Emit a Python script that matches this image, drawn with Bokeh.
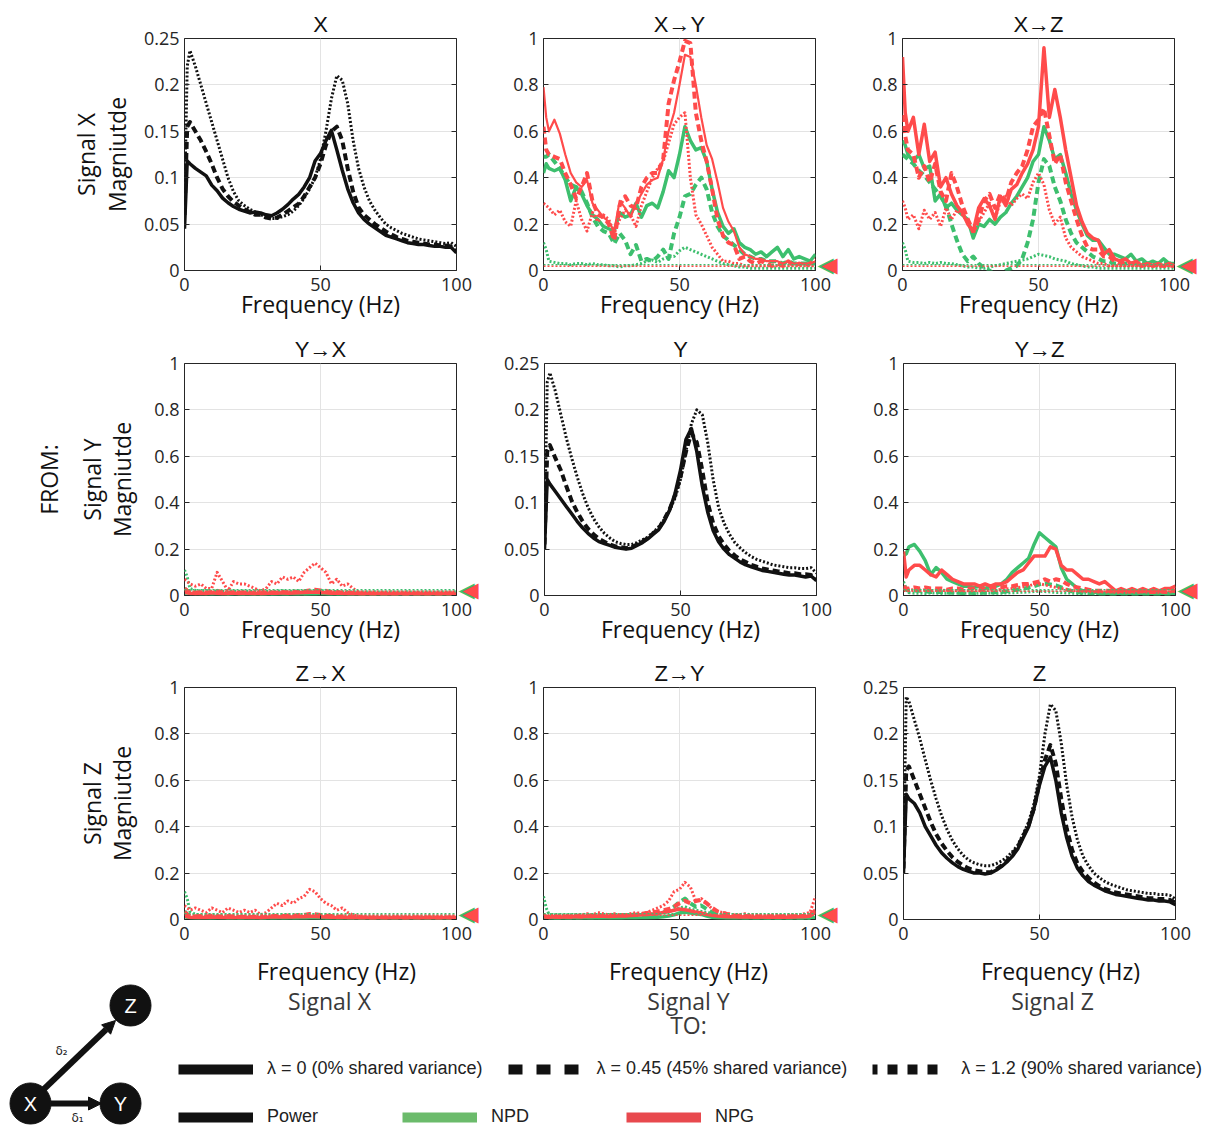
from bokeh.plotting import figure
from bokeh.layouts import column, row
from bokeh.models import (Range1d, FixedTicker, PrintfTickFormatter, LinearAxis, Span,
                          Title, Legend, LegendItem, Arrow, NormalHead)
from bokeh.core.properties import value
from bokeh.embed import file_html
from bokeh.resources import INLINE

# ---------------- data ----------------
FREQ = [0, 1, 2, 4,
        6, 8, 10, 12, 14, 16, 18, 20, 22, 24,
        26, 28, 30, 32, 34, 36, 38, 40, 42, 44,
        46, 48, 50, 52, 54, 56, 58, 60, 62, 64,
        66, 68, 70, 72, 74, 76, 78, 80, 82, 84,
        86, 88, 90, 92, 94, 96, 98, 100]

X_TICKS = [0, 50, 100]
POWER_TICKS = [0, 0.05, 0.1, 0.15, 0.2, 0.25]
UNIT_TICKS = [0, 0.2, 0.4, 0.6, 0.8, 1]

NPD_THRESH = 0.025
NPG_THRESH = 0.018

# Power (diagonal panels)
X_POW_L0 = [0.045, 0.118, 0.115, 0.110,
            0.106, 0.102, 0.092, 0.086, 0.078, 0.073, 0.069, 0.066, 0.064, 0.062,
            0.063, 0.062, 0.060, 0.059, 0.062, 0.066, 0.071, 0.077, 0.082, 0.090,
            0.100, 0.118, 0.126, 0.140, 0.151, 0.130, 0.108, 0.088, 0.073, 0.062,
            0.055, 0.050, 0.046, 0.042, 0.038, 0.036, 0.034, 0.032, 0.030, 0.029,
            0.028, 0.028, 0.027, 0.026, 0.026, 0.025, 0.025, 0.019]
X_POW_L45 = [0.060, 0.155, 0.160, 0.150,
             0.140, 0.128, 0.115, 0.100, 0.088, 0.080, 0.074, 0.070, 0.066, 0.063,
             0.060, 0.060, 0.057, 0.056, 0.057, 0.060, 0.064, 0.068, 0.072, 0.080,
             0.090, 0.100, 0.115, 0.135, 0.150, 0.155, 0.140, 0.110, 0.085, 0.068,
             0.060, 0.055, 0.050, 0.046, 0.042, 0.039, 0.036, 0.034, 0.032, 0.031,
             0.030, 0.029, 0.028, 0.028, 0.027, 0.027, 0.026, 0.022]
X_POW_L12 = [0.070, 0.220, 0.237, 0.220,
             0.200, 0.180, 0.160, 0.140, 0.120, 0.100, 0.085, 0.075, 0.070, 0.066,
             0.063, 0.060, 0.058, 0.056, 0.056, 0.058, 0.060, 0.064, 0.070, 0.078,
             0.088, 0.100, 0.120, 0.150, 0.185, 0.210, 0.205, 0.180, 0.140, 0.110,
             0.090, 0.075, 0.065, 0.057, 0.050, 0.046, 0.043, 0.040, 0.038, 0.036,
             0.034, 0.033, 0.032, 0.031, 0.030, 0.029, 0.030, 0.026]

Y_POW_L0 = [0.050, 0.125, 0.120, 0.112,
            0.104, 0.096, 0.088, 0.080, 0.073, 0.067, 0.062, 0.058, 0.056, 0.054,
            0.052, 0.051, 0.050, 0.051, 0.054, 0.057, 0.061, 0.066, 0.071, 0.080,
            0.092, 0.110, 0.135, 0.168, 0.180, 0.155, 0.118, 0.090, 0.070, 0.058,
            0.050, 0.044, 0.040, 0.036, 0.033, 0.031, 0.029, 0.027, 0.026, 0.025,
            0.024, 0.023, 0.022, 0.022, 0.021, 0.020, 0.021, 0.016]
Y_POW_L45 = [0.055, 0.155, 0.162, 0.148,
             0.135, 0.118, 0.102, 0.090, 0.080, 0.072, 0.066, 0.061, 0.058, 0.055,
             0.053, 0.052, 0.051, 0.052, 0.055, 0.058, 0.062, 0.067, 0.072, 0.082,
             0.093, 0.108, 0.128, 0.155, 0.175, 0.165, 0.135, 0.100, 0.078, 0.064,
             0.055, 0.048, 0.043, 0.039, 0.036, 0.033, 0.031, 0.029, 0.028, 0.027,
             0.026, 0.025, 0.024, 0.024, 0.023, 0.023, 0.022, 0.018]
Y_POW_L12 = [0.065, 0.230, 0.240, 0.220,
             0.195, 0.170, 0.148, 0.128, 0.110, 0.095, 0.083, 0.074, 0.067, 0.062,
             0.058, 0.056, 0.055, 0.055, 0.057, 0.060, 0.063, 0.068, 0.074, 0.082,
             0.092, 0.105, 0.125, 0.155, 0.185, 0.200, 0.195, 0.165, 0.125, 0.095,
             0.078, 0.066, 0.057, 0.051, 0.046, 0.042, 0.039, 0.037, 0.035, 0.033,
             0.032, 0.031, 0.030, 0.030, 0.029, 0.029, 0.030, 0.024]

Z_POW_L0 = [0.050, 0.135, 0.130, 0.125,
            0.115, 0.100, 0.090, 0.080, 0.072, 0.066, 0.061, 0.057, 0.054, 0.052,
            0.050, 0.050, 0.049, 0.050, 0.053, 0.057, 0.062, 0.068, 0.076, 0.088,
            0.100, 0.120, 0.145, 0.165, 0.175, 0.150, 0.115, 0.088, 0.068, 0.055,
            0.047, 0.041, 0.037, 0.034, 0.031, 0.029, 0.027, 0.026, 0.025, 0.024,
            0.023, 0.022, 0.021, 0.021, 0.020, 0.020, 0.019, 0.016]
Z_POW_L45 = [0.055, 0.160, 0.165, 0.150,
             0.135, 0.120, 0.105, 0.092, 0.082, 0.074, 0.067, 0.062, 0.058, 0.055,
             0.053, 0.052, 0.051, 0.051, 0.054, 0.058, 0.063, 0.070, 0.078, 0.090,
             0.102, 0.120, 0.148, 0.172, 0.188, 0.168, 0.130, 0.098, 0.075, 0.060,
             0.051, 0.045, 0.040, 0.036, 0.033, 0.031, 0.029, 0.028, 0.027, 0.026,
             0.025, 0.024, 0.023, 0.023, 0.022, 0.022, 0.021, 0.018]
Z_POW_L12 = [0.065, 0.240, 0.235, 0.215,
             0.195, 0.172, 0.150, 0.130, 0.112, 0.097, 0.085, 0.076, 0.069, 0.064,
             0.061, 0.059, 0.058, 0.058, 0.060, 0.063, 0.067, 0.073, 0.080, 0.092,
             0.105, 0.125, 0.155, 0.200, 0.232, 0.225, 0.190, 0.145, 0.110, 0.085,
             0.068, 0.058, 0.050, 0.045, 0.041, 0.038, 0.036, 0.034, 0.032, 0.031,
             0.030, 0.029, 0.028, 0.028, 0.027, 0.027, 0.026, 0.022]

# X -> Y
XY_NPD_L0 = [0.42, 0.46, 0.44, 0.43,
             0.44, 0.39, 0.30, 0.36, 0.33, 0.28, 0.24, 0.22, 0.19, 0.18,
             0.17, 0.25, 0.23, 0.24, 0.29, 0.23, 0.28, 0.29, 0.27, 0.34,
             0.43, 0.40, 0.50, 0.62, 0.56, 0.52, 0.53, 0.47, 0.35, 0.25,
             0.19, 0.16, 0.18, 0.12, 0.10, 0.09, 0.07, 0.08, 0.06, 0.08,
             0.10, 0.06, 0.09, 0.05, 0.06, 0.05, 0.04, 0.07]
XY_NPD_L45 = [0.49, 0.49, 0.50, 0.47,
              0.44, 0.40, 0.37, 0.36, 0.34, 0.29, 0.23, 0.19, 0.17, 0.16,
              0.115, 0.16, 0.13, 0.07, 0.11, 0.04, 0.05, 0.04, 0.06, 0.09,
              0.05, 0.16, 0.23, 0.32, 0.33, 0.37, 0.40, 0.35, 0.25, 0.19,
              0.15, 0.13, 0.11, 0.09, 0.07, 0.06, 0.05, 0.05, 0.04, 0.04,
              0.04, 0.03, 0.04, 0.03, 0.03, 0.03, 0.03, 0.03]
XY_NPD_L12 = [0.12, 0.09, 0.04, 0.035,
              0.03, 0.03, 0.025, 0.03, 0.03, 0.025, 0.03, 0.025, 0.025, 0.02,
              0.02, 0.015, 0.02, 0.02, 0.025, 0.03, 0.04, 0.045, 0.035, 0.05,
              0.06, 0.06, 0.085, 0.10, 0.09, 0.08, 0.07, 0.06, 0.05, 0.04,
              0.03, 0.025, 0.02, 0.015, 0.015, 0.01, 0.01, 0.01, 0.01, 0.01,
              0.01, 0.01, 0.01, 0.01, 0.01, 0.01, 0.01, 0.01]
XY_NPG_L0 = [0.79, 0.66, 0.60, 0.65,
             0.59, 0.50, 0.42, 0.38, 0.36, 0.39, 0.29, 0.26, 0.23, 0.21,
             0.17, 0.30, 0.27, 0.23, 0.29, 0.33, 0.37, 0.39, 0.40, 0.48,
             0.60, 0.68, 0.80, 0.93, 0.92, 0.80, 0.66, 0.54, 0.48, 0.38,
             0.27, 0.21, 0.17, 0.10, 0.07, 0.06, 0.05, 0.05, 0.04, 0.04,
             0.04, 0.03, 0.04, 0.03, 0.03, 0.03, 0.03, 0.04]
XY_NPG_L45 = [0.62, 0.52, 0.50, 0.49,
              0.48, 0.42, 0.37, 0.31, 0.36, 0.42, 0.30, 0.24, 0.23, 0.20,
              0.13, 0.28, 0.32, 0.28, 0.27, 0.36, 0.40, 0.42, 0.42, 0.48,
              0.72, 0.82, 0.90, 0.99, 0.98, 0.68, 0.56, 0.47, 0.35, 0.22,
              0.15, 0.12, 0.11, 0.05, 0.06, 0.04, 0.03, 0.04, 0.03, 0.02,
              0.03, 0.02, 0.04, 0.02, 0.03, 0.02, 0.03, 0.05]
XY_NPG_L12 = [0.29, 0.28, 0.27, 0.24,
              0.26, 0.21, 0.19, 0.30, 0.22, 0.17, 0.25, 0.21, 0.24, 0.22,
              0.16, 0.22, 0.26, 0.24, 0.19, 0.28, 0.34, 0.40, 0.44, 0.47,
              0.55, 0.63, 0.66, 0.68, 0.40, 0.24, 0.20, 0.15, 0.10, 0.07,
              0.04, 0.04, 0.03, 0.03, 0.02, 0.02, 0.02, 0.02, 0.02, 0.02,
              0.02, 0.02, 0.02, 0.02, 0.02, 0.02, 0.02, 0.02]

# X -> Z
XZ_NPD_L0 = [0.56, 0.54, 0.50, 0.47,
             0.50, 0.44, 0.45, 0.30, 0.33, 0.27, 0.29, 0.26, 0.24, 0.22,
             0.14, 0.20, 0.19, 0.22, 0.20, 0.23, 0.25, 0.29, 0.32, 0.36,
             0.40, 0.47, 0.50, 0.62, 0.56, 0.48, 0.50, 0.42, 0.33, 0.26,
             0.20, 0.15, 0.13, 0.13, 0.10, 0.07, 0.07, 0.06, 0.05, 0.07,
             0.04, 0.05, 0.03, 0.04, 0.03, 0.05, 0.03, 0.03]
XZ_NPD_L45 = [0.50, 0.49, 0.48, 0.46,
              0.43, 0.41, 0.38, 0.35, 0.32, 0.28, 0.20, 0.13, 0.07, 0.04,
              0.06, 0.03, 0.01, 0.00, -0.02, -0.02, 0.00, 0.01, 0.02, 0.05,
              0.12, 0.22, 0.38, 0.48, 0.45, 0.36, 0.30, 0.22, 0.16, 0.12,
              0.10, 0.08, 0.06, 0.05, 0.04, 0.04, 0.03, 0.03, 0.03, 0.03,
              0.03, 0.03, 0.03, 0.03, 0.03, 0.03, 0.03, 0.03]
XZ_NPD_L12 = [0.12, 0.09, 0.04, 0.035,
              0.035, 0.03, 0.035, 0.03, 0.035, 0.03, 0.03, 0.025, 0.02, 0.015,
              0.015, 0.01, 0.01, 0.015, 0.02, 0.025, 0.03, 0.035, 0.04, 0.045,
              0.05, 0.06, 0.07, 0.065, 0.06, 0.05, 0.045, 0.04, 0.03, 0.025,
              0.02, 0.015, 0.015, 0.01, 0.01, 0.01, 0.01, 0.01, 0.01, 0.01,
              0.01, 0.01, 0.01, 0.01, 0.01, 0.01, 0.01, 0.01]
XZ_NPG_L0 = [0.92, 0.68, 0.60, 0.66,
             0.50, 0.63, 0.47, 0.51, 0.36, 0.40, 0.33, 0.28, 0.25, 0.20,
             0.17, 0.27, 0.31, 0.28, 0.22, 0.32, 0.28, 0.35, 0.37, 0.42,
             0.46, 0.52, 0.62, 0.96, 0.66, 0.78, 0.66, 0.52, 0.40, 0.28,
             0.21, 0.16, 0.14, 0.13, 0.07, 0.09, 0.05, 0.04, 0.05, 0.03,
             0.04, 0.02, 0.03, 0.02, 0.03, 0.02, 0.03, 0.02]
XZ_NPG_L45 = [0.67, 0.58, 0.52, 0.50,
              0.40, 0.45, 0.38, 0.46, 0.34, 0.30, 0.42, 0.36, 0.28, 0.22,
              0.17, 0.22, 0.30, 0.33, 0.27, 0.33, 0.30, 0.38, 0.42, 0.45,
              0.52, 0.62, 0.65, 0.70, 0.58, 0.46, 0.50, 0.38, 0.30, 0.22,
              0.15, 0.10, 0.09, 0.09, 0.06, 0.06, 0.04, 0.03, 0.04, 0.03,
              0.03, 0.02, 0.03, 0.02, 0.02, 0.02, 0.02, 0.02]
XZ_NPG_L12 = [0.30, 0.27, 0.22, 0.24,
              0.18, 0.26, 0.22, 0.25, 0.19, 0.27, 0.22, 0.26, 0.24, 0.21,
              0.16, 0.21, 0.25, 0.29, 0.22, 0.30, 0.32, 0.28, 0.31, 0.33,
              0.31, 0.38, 0.42, 0.37, 0.26, 0.20, 0.23, 0.14, 0.10, 0.08,
              0.06, 0.05, 0.04, 0.03, 0.03, 0.02, 0.02, 0.02, 0.02, 0.02,
              0.02, 0.02, 0.02, 0.02, 0.02, 0.02, 0.02, 0.02]

# Y -> X
YX_NPD_L0 = [0.010, 0.012, 0.008, 0.010,
             0.006, 0.008, 0.005, 0.007, 0.006, 0.005, 0.007, 0.006, 0.005, 0.006,
             0.005, 0.006, 0.004, 0.005, 0.006, 0.005, 0.004, 0.006, 0.005, 0.004,
             0.006, 0.005, 0.007, 0.006, 0.005, 0.006, 0.004, 0.005, 0.004, 0.005,
             0.004, 0.005, 0.004, 0.004, 0.005, 0.004, 0.004, 0.005, 0.004, 0.004,
             0.005, 0.004, 0.004, 0.005, 0.004, 0.004, 0.005, 0.004]
YX_NPD_L45 = [0.030, 0.020, 0.012, 0.010,
              0.012, 0.010, 0.012, 0.015, 0.010, 0.008, 0.010, 0.009, 0.008, 0.010,
              0.008, 0.007, 0.009, 0.008, 0.010, 0.009, 0.008, 0.010, 0.009, 0.008,
              0.010, 0.011, 0.012, 0.010, 0.009, 0.008, 0.009, 0.007, 0.008, 0.007,
              0.006, 0.007, 0.006, 0.006, 0.007, 0.006, 0.006, 0.007, 0.006, 0.006,
              0.007, 0.006, 0.006, 0.007, 0.006, 0.006, 0.007, 0.006]
YX_NPD_L12 = [0.110, 0.080, 0.030, 0.022,
              0.020, 0.022, 0.018, 0.020, 0.018, 0.020, 0.019, 0.018, 0.020, 0.018,
              0.017, 0.019, 0.018, 0.017, 0.019, 0.020, 0.018, 0.019, 0.020, 0.018,
              0.019, 0.020, 0.021, 0.019, 0.018, 0.017, 0.016, 0.017, 0.016, 0.015,
              0.016, 0.015, 0.016, 0.015, 0.015, 0.016, 0.015, 0.015, 0.016, 0.015,
              0.015, 0.016, 0.015, 0.015, 0.016, 0.015, 0.015, 0.016]
YX_NPG_L0 = [0.015, 0.012, 0.010, 0.008,
             0.010, 0.008, 0.012, 0.010, 0.008, 0.009, 0.011, 0.008, 0.010, 0.009,
             0.008, 0.010, 0.009, 0.011, 0.010, 0.012, 0.010, 0.011, 0.012, 0.013,
             0.014, 0.015, 0.013, 0.012, 0.010, 0.011, 0.009, 0.008, 0.009, 0.008,
             0.007, 0.008, 0.007, 0.008, 0.007, 0.007, 0.008, 0.007, 0.007, 0.008,
             0.007, 0.007, 0.008, 0.007, 0.007, 0.008, 0.007, 0.006]
YX_NPG_L45 = [0.030, 0.020, 0.015, 0.012,
              0.014, 0.012, 0.015, 0.020, 0.014, 0.010, 0.014, 0.012, 0.013, 0.011,
              0.010, 0.009, 0.011, 0.013, 0.012, 0.015, 0.014, 0.016, 0.015, 0.018,
              0.022, 0.025, 0.022, 0.020, 0.014, 0.015, 0.012, 0.012, 0.010, 0.009,
              0.008, 0.009, 0.008, 0.008, 0.009, 0.008, 0.008, 0.009, 0.008, 0.008,
              0.009, 0.008, 0.008, 0.009, 0.008, 0.008, 0.009, 0.008]
YX_NPG_L12 = [0.070, 0.060, 0.050, 0.040,
              0.050, 0.030, 0.030, 0.100, 0.060, 0.020, 0.060, 0.050, 0.050, 0.040,
              0.030, 0.020, 0.030, 0.060, 0.050, 0.080, 0.070, 0.080, 0.060, 0.100,
              0.120, 0.140, 0.120, 0.100, 0.050, 0.070, 0.040, 0.050, 0.030, 0.015,
              0.010, 0.012, 0.010, 0.011, 0.010, 0.010, 0.011, 0.010, 0.010, 0.011,
              0.010, 0.010, 0.011, 0.010, 0.010, 0.011, 0.010, 0.010]

# Y -> Z
YZ_NPD_L0 = [0.17, 0.18, 0.21, 0.22,
             0.19, 0.15, 0.09, 0.12, 0.10, 0.07, 0.06, 0.05, 0.04, 0.04,
             0.035, 0.04, 0.03, 0.04, 0.04, 0.05, 0.07, 0.10, 0.12, 0.14,
             0.16, 0.22, 0.27, 0.25, 0.23, 0.21, 0.12, 0.07, 0.05, 0.03,
             0.02, 0.02, 0.015, 0.01, 0.01, 0.01, 0.01, 0.01, 0.01, 0.01,
             0.01, 0.01, 0.01, 0.01, 0.01, 0.01, 0.01, 0.01]
YZ_NPD_L45 = [0.030, 0.025, 0.020, 0.022,
              0.020, 0.018, 0.015, 0.016, 0.014, 0.013, 0.012, 0.012, 0.011, 0.012,
              0.011, 0.012, 0.012, 0.013, 0.014, 0.015, 0.018, 0.022, 0.026, 0.030,
              0.034, 0.040, 0.048, 0.052, 0.048, 0.044, 0.035, 0.025, 0.018, 0.014,
              0.012, 0.010, 0.009, 0.008, 0.008, 0.007, 0.007, 0.008, 0.007, 0.007,
              0.007, 0.006, 0.007, 0.006, 0.007, 0.006, 0.007, 0.007]
YZ_NPD_L12 = [0.060, 0.030, 0.012, 0.010,
              0.010, 0.009, 0.011, 0.010, 0.009, 0.010, 0.011, 0.010, 0.009, 0.010,
              0.009, 0.010, 0.011, 0.010, 0.009, 0.010, 0.011, 0.012, 0.013, 0.014,
              0.015, 0.017, 0.018, 0.017, 0.015, 0.013, 0.012, 0.011, 0.010, 0.009,
              0.009, 0.010, 0.009, 0.009, 0.010, 0.009, 0.009, 0.010, 0.009, 0.009,
              0.010, 0.009, 0.009, 0.010, 0.009, 0.009, 0.010, 0.009]
YZ_NPG_L0 = [0.19, 0.08, 0.11, 0.13,
             0.13, 0.11, 0.09, 0.08, 0.11, 0.09, 0.07, 0.06, 0.05, 0.05,
             0.05, 0.04, 0.05, 0.04, 0.05, 0.05, 0.06, 0.08, 0.10, 0.11,
             0.14, 0.17, 0.17, 0.17, 0.21, 0.20, 0.13, 0.11, 0.11, 0.09,
             0.07, 0.07, 0.06, 0.05, 0.06, 0.04, 0.02, 0.03, 0.02, 0.03,
             0.02, 0.03, 0.02, 0.03, 0.02, 0.03, 0.03, 0.04]
YZ_NPG_L45 = [0.040, 0.030, 0.030, 0.035,
              0.030, 0.035, 0.030, 0.030, 0.030, 0.025, 0.030, 0.030, 0.025, 0.030,
              0.030, 0.025, 0.030, 0.030, 0.035, 0.035, 0.040, 0.040, 0.045, 0.050,
              0.050, 0.055, 0.060, 0.070, 0.060, 0.070, 0.065, 0.050, 0.040, 0.035,
              0.030, 0.025, 0.020, 0.020, 0.020, 0.020, 0.015, 0.020, 0.015, 0.020,
              0.015, 0.020, 0.015, 0.015, 0.020, 0.015, 0.020, 0.020]
YZ_NPG_L12 = [0.030, 0.025, 0.022, 0.025,
              0.022, 0.025, 0.020, 0.023, 0.021, 0.024, 0.020, 0.022, 0.021, 0.020,
              0.022, 0.020, 0.023, 0.021, 0.024, 0.026, 0.028, 0.030, 0.034, 0.038,
              0.042, 0.048, 0.050, 0.046, 0.040, 0.035, 0.030, 0.026, 0.022, 0.020,
              0.018, 0.017, 0.016, 0.015, 0.016, 0.015, 0.014, 0.015, 0.014, 0.015,
              0.014, 0.015, 0.014, 0.015, 0.014, 0.015, 0.016, 0.018]

# Z -> X
ZX_NPD_L0 = [0.012, 0.010, 0.007, 0.006,
             0.007, 0.006, 0.005, 0.006, 0.007, 0.005, 0.006, 0.005, 0.006, 0.005,
             0.004, 0.005, 0.006, 0.005, 0.004, 0.005, 0.006, 0.005, 0.006, 0.005,
             0.006, 0.007, 0.006, 0.005, 0.006, 0.005, 0.004, 0.005, 0.004, 0.004,
             0.005, 0.004, 0.004, 0.005, 0.004, 0.004, 0.005, 0.004, 0.004, 0.005,
             0.004, 0.004, 0.005, 0.004, 0.004, 0.005, 0.004, 0.004]
ZX_NPD_L45 = [0.035, 0.022, 0.013, 0.011,
              0.010, 0.012, 0.010, 0.013, 0.011, 0.009, 0.010, 0.008, 0.009, 0.010,
              0.009, 0.008, 0.008, 0.009, 0.010, 0.009, 0.010, 0.009, 0.010, 0.011,
              0.012, 0.011, 0.010, 0.009, 0.010, 0.008, 0.009, 0.008, 0.007, 0.007,
              0.006, 0.007, 0.006, 0.007, 0.006, 0.006, 0.007, 0.006, 0.006, 0.007,
              0.006, 0.006, 0.007, 0.006, 0.006, 0.007, 0.006, 0.006]
ZX_NPD_L12 = [0.120, 0.090, 0.035, 0.022,
              0.020, 0.019, 0.021, 0.018, 0.020, 0.019, 0.018, 0.020, 0.019, 0.018,
              0.019, 0.018, 0.017, 0.019, 0.018, 0.020, 0.019, 0.018, 0.020, 0.019,
              0.020, 0.021, 0.020, 0.019, 0.018, 0.017, 0.017, 0.016, 0.016, 0.015,
              0.016, 0.015, 0.015, 0.016, 0.015, 0.015, 0.016, 0.015, 0.015, 0.016,
              0.015, 0.015, 0.016, 0.015, 0.015, 0.016, 0.015, 0.015]
ZX_NPG_L0 = [0.016, 0.012, 0.010, 0.009,
             0.010, 0.009, 0.011, 0.010, 0.009, 0.010, 0.008, 0.010, 0.009, 0.010,
             0.009, 0.008, 0.010, 0.011, 0.012, 0.011, 0.012, 0.011, 0.013, 0.012,
             0.014, 0.013, 0.012, 0.011, 0.010, 0.009, 0.010, 0.008, 0.008, 0.007,
             0.008, 0.007, 0.007, 0.008, 0.007, 0.007, 0.008, 0.007, 0.007, 0.008,
             0.007, 0.007, 0.008, 0.007, 0.007, 0.008, 0.007, 0.007]
ZX_NPG_L45 = [0.032, 0.022, 0.016, 0.014,
              0.015, 0.013, 0.016, 0.014, 0.012, 0.015, 0.013, 0.011, 0.012, 0.011,
              0.012, 0.010, 0.011, 0.014, 0.016, 0.015, 0.017, 0.016, 0.019, 0.020,
              0.024, 0.023, 0.020, 0.017, 0.015, 0.012, 0.013, 0.011, 0.010, 0.009,
              0.009, 0.008, 0.008, 0.009, 0.008, 0.008, 0.009, 0.008, 0.008, 0.009,
              0.008, 0.008, 0.009, 0.008, 0.008, 0.009, 0.008, 0.008]
ZX_NPG_L12 = [0.060, 0.050, 0.040, 0.050,
              0.040, 0.030, 0.050, 0.040, 0.030, 0.050, 0.040, 0.030, 0.040, 0.030,
              0.040, 0.020, 0.030, 0.050, 0.070, 0.060, 0.080, 0.070, 0.090, 0.100,
              0.130, 0.120, 0.090, 0.070, 0.060, 0.040, 0.050, 0.030, 0.020, 0.015,
              0.010, 0.011, 0.010, 0.010, 0.011, 0.010, 0.010, 0.011, 0.010, 0.010,
              0.011, 0.010, 0.010, 0.011, 0.010, 0.010, 0.011, 0.010]

# Z -> Y
ZY_NPD_L0 = [0.010, 0.008, 0.006, 0.005,
             0.005, 0.006, 0.005, 0.005, 0.006, 0.005, 0.005, 0.006, 0.005, 0.005,
             0.006, 0.005, 0.006, 0.007, 0.006, 0.007, 0.008, 0.009, 0.010, 0.012,
             0.015, 0.020, 0.028, 0.032, 0.028, 0.025, 0.022, 0.015, 0.010, 0.008,
             0.006, 0.005, 0.005, 0.005, 0.004, 0.005, 0.004, 0.005, 0.004, 0.004,
             0.005, 0.004, 0.004, 0.005, 0.004, 0.004, 0.005, 0.006]
ZY_NPD_L45 = [0.020, 0.012, 0.010, 0.008,
              0.008, 0.009, 0.008, 0.008, 0.009, 0.010, 0.009, 0.010, 0.011, 0.010,
              0.011, 0.012, 0.011, 0.013, 0.014, 0.015, 0.017, 0.020, 0.025, 0.030,
              0.040, 0.055, 0.075, 0.090, 0.070, 0.055, 0.060, 0.045, 0.030, 0.020,
              0.015, 0.012, 0.010, 0.009, 0.008, 0.008, 0.007, 0.008, 0.007, 0.007,
              0.007, 0.006, 0.007, 0.006, 0.006, 0.007, 0.006, 0.008]
ZY_NPD_L12 = [0.100, 0.050, 0.022, 0.020,
              0.020, 0.019, 0.021, 0.020, 0.019, 0.020, 0.021, 0.020, 0.019, 0.020,
              0.021, 0.020, 0.021, 0.022, 0.021, 0.022, 0.023, 0.025, 0.027, 0.030,
              0.035, 0.040, 0.050, 0.055, 0.045, 0.040, 0.035, 0.030, 0.025, 0.022,
              0.020, 0.019, 0.020, 0.019, 0.020, 0.019, 0.020, 0.019, 0.020, 0.019,
              0.020, 0.019, 0.020, 0.019, 0.020, 0.019, 0.020, 0.021]
ZY_NPG_L0 = [0.015, 0.012, 0.010, 0.012,
             0.010, 0.012, 0.011, 0.013, 0.012, 0.014, 0.013, 0.015, 0.014, 0.013,
             0.014, 0.016, 0.015, 0.017, 0.018, 0.020, 0.022, 0.024, 0.026, 0.030,
             0.034, 0.040, 0.045, 0.042, 0.038, 0.032, 0.028, 0.022, 0.018, 0.015,
             0.013, 0.012, 0.012, 0.011, 0.012, 0.011, 0.010, 0.011, 0.010, 0.011,
             0.010, 0.011, 0.010, 0.011, 0.012, 0.012, 0.015, 0.030]
ZY_NPG_L45 = [0.015, 0.012, 0.010, 0.012,
              0.012, 0.014, 0.012, 0.015, 0.013, 0.016, 0.015, 0.018, 0.016, 0.018,
              0.017, 0.019, 0.018, 0.020, 0.022, 0.025, 0.028, 0.030, 0.035, 0.040,
              0.045, 0.055, 0.070, 0.080, 0.070, 0.080, 0.085, 0.070, 0.050, 0.035,
              0.028, 0.022, 0.018, 0.016, 0.015, 0.014, 0.013, 0.014, 0.013, 0.014,
              0.013, 0.014, 0.013, 0.014, 0.015, 0.016, 0.020, 0.040]
ZY_NPG_L12 = [0.020, 0.020, 0.015, 0.020,
              0.015, 0.020, 0.015, 0.020, 0.020, 0.025, 0.020, 0.030, 0.025, 0.020,
              0.025, 0.020, 0.020, 0.025, 0.030, 0.025, 0.030, 0.040, 0.050, 0.060,
              0.080, 0.120, 0.130, 0.160, 0.140, 0.080, 0.090, 0.070, 0.045, 0.035,
              0.030, 0.025, 0.020, 0.020, 0.025, 0.020, 0.020, 0.020, 0.015, 0.020,
              0.020, 0.015, 0.020, 0.020, 0.020, 0.025, 0.030, 0.100]

TITLES = [["X", "X\u2192Y", "X\u2192Z"],
          ["Y\u2192X", "Y", "Y\u2192Z"],
          ["Z\u2192X", "Z\u2192Y", "Z"]]
ROW_LABELS = ["Signal X\nMagniutde", "Signal Y\nMagniutde", "Signal Z\nMagniutde"]
X_LABEL = "Frequency (Hz)"
COL_LABELS = ["Signal X", "Signal Y", "Signal Z"]
LAMBDA_LABELS = ["\u03bb = 0 (0% shared variance)",
                 "\u03bb = 0.45 (45% shared variance)",
                 "\u03bb = 1.2 (90% shared variance)"]
MEASURE_LABELS = ["Power", "NPD", "NPG"]

# ---------------- style ----------------
GREEN = "#3DBF6E"
RED = "#FF4B4B"
BLACK = "#111111"
AX = "#262626"
STYLE = {
    "l0": dict(line_width=3.5, line_dash="solid"),
    "l45": dict(line_width=4, line_dash="7 4"),
    "l12": dict(line_width=3, line_dash="2 2"),
}
FONT = "Open Sans"
TITLE_FONT = "Liberation Sans"

for s in [X_POW_L0, X_POW_L45, X_POW_L12, Y_POW_L0, Y_POW_L45, Y_POW_L12,
          Z_POW_L0, Z_POW_L45, Z_POW_L12,
          XY_NPD_L0, XY_NPD_L45, XY_NPD_L12, XY_NPG_L0, XY_NPG_L45, XY_NPG_L12,
          XZ_NPD_L0, XZ_NPD_L45, XZ_NPD_L12, XZ_NPG_L0, XZ_NPG_L45, XZ_NPG_L12,
          YX_NPD_L0, YX_NPD_L45, YX_NPD_L12, YX_NPG_L0, YX_NPG_L45, YX_NPG_L12,
          YZ_NPD_L0, YZ_NPD_L45, YZ_NPD_L12, YZ_NPG_L0, YZ_NPG_L45, YZ_NPG_L12,
          ZX_NPD_L0, ZX_NPD_L45, ZX_NPD_L12, ZX_NPG_L0, ZX_NPG_L45, ZX_NPG_L12,
          ZY_NPD_L0, ZY_NPD_L45, ZY_NPD_L12, ZY_NPG_L0, ZY_NPG_L45, ZY_NPG_L12]:
    assert len(s) == len(FREQ), len(s)

BORDER_L = [184, 43, 43]
BORDER_R = [44, 44, 36]
BORDER_T = [38, 32, 32]
BORDER_B = [61, 60, 36]


def marker_axis(color, standoff):
    # a right-hand axis whose only "tick label" is the threshold marker triangle
    return LinearAxis(ticker=FixedTicker(ticks=[NPD_THRESH]),
                      major_label_overrides={NPD_THRESH: "\u25c0"},
                      major_label_text_color=color, major_label_text_font="DejaVu Sans",
                      major_label_text_font_size="21px", major_label_standoff=standoff,
                      major_tick_line_color=None, axis_line_color=None,
                      minor_tick_line_color=None)


def make_panel(r, c, series, power=False):
    ymax = 0.25 if power else 1.0
    yticks = POWER_TICKS if power else UNIT_TICKS
    p = figure(frame_width=272, frame_height=232,
               min_border_left=BORDER_L[c], min_border_right=BORDER_R[c],
               min_border_top=BORDER_T[r], min_border_bottom=BORDER_B[r],
               x_range=Range1d(0, 100), y_range=Range1d(0, ymax),
               output_backend="svg", toolbar_location=None, title=TITLES[r][c])
    p.title.align = "center"
    p.title.text_font = TITLE_FONT
    p.title.text_font_size = "22px"
    p.title.text_font_style = "normal"
    p.title.text_color = "#111111"
    p.title.standoff = 3
    p.outline_line_color = AX
    p.outline_line_width = 1
    p.background_fill_color = "white"
    p.border_fill_color = "white"

    p.xaxis.ticker = FixedTicker(ticks=X_TICKS)
    p.yaxis.ticker = FixedTicker(ticks=yticks)
    p.yaxis.formatter = PrintfTickFormatter(format="%g")
    p.xgrid.ticker = FixedTicker(ticks=X_TICKS)
    p.ygrid.ticker = FixedTicker(ticks=yticks)
    p.grid.grid_line_color = "#E3E3E3"
    p.grid.grid_line_width = 1

    ra = LinearAxis(ticker=FixedTicker(ticks=yticks),
                    major_label_overrides={t: "" for t in yticks},
                    major_label_standoff=0)
    p.add_layout(ra, "right")

    for ax in p.axis:
        ax.major_tick_in = 5
        ax.major_tick_out = 0
        ax.minor_tick_line_color = None
        ax.axis_line_color = None
        ax.major_tick_line_color = AX
        ax.major_label_text_font = FONT
        ax.major_label_text_color = AX
        ax.major_label_text_font_size = "18px"
        ax.axis_label_text_font = FONT
        ax.axis_label_text_font_size = "23px"
        ax.axis_label_text_font_style = "normal"
        ax.axis_label_text_color = "#111111"

    p.xaxis[0].major_label_standoff = 7
    if r < 2:
        # bottom row gets its axis title in the strip below (it shares space with the diagram)
        p.xaxis[0].axis_label = X_LABEL
        p.xaxis[0].axis_label_standoff = -6
        p.xaxis[0].axis_label_text_line_height = 0.9
    p.yaxis[0].major_label_standoff = 5

    if c == 0:
        p.yaxis[0].axis_label = ROW_LABELS[r]
        p.yaxis[0].axis_label_text_line_height = 0.95
        p.yaxis[0].axis_label_standoff = 8 if r == 0 else 13
        if r == 1:
            ft = Title(text="FROM:", align="center", text_font=FONT,
                       text_font_size="23px", text_font_style="normal",
                       text_color="#111111", standoff=16)
            p.add_layout(ft, "left")

    for vals, color, key, *extra in series:
        kw = dict(STYLE[key])
        if extra:
            kw.update(extra[0])
        p.line(FREQ, vals, line_color=color, line_join="round", **kw)

    if not power:
        p.add_layout(Span(location=NPD_THRESH, dimension="width", line_color=GREEN,
                          line_dash="2 2", line_width=1.5))
        p.add_layout(Span(location=NPG_THRESH, dimension="width", line_color=RED,
                          line_dash="2 2", line_width=1.5))
        p.add_layout(marker_axis(GREEN, -4), "right")
        p.add_layout(marker_axis(RED, -21), "right")
    return p


def pow_series(l0, l45, l12):
    return [(l12, BLACK, "l12"), (l45, BLACK, "l45"), (l0, BLACK, "l0")]


def np_series(d0, d45, d12, g0, g45, g12, red_solid_width=3.5):
    return [(d12, GREEN, "l12"), (d45, GREEN, "l45"), (d0, GREEN, "l0"),
            (g12, RED, "l12"), (g45, RED, "l45"), (g0, RED, "l0", dict(line_width=red_solid_width))]


p11 = make_panel(0, 0, pow_series(X_POW_L0, X_POW_L45, X_POW_L12), power=True)
p12 = make_panel(0, 1, np_series(XY_NPD_L0, XY_NPD_L45, XY_NPD_L12,
                                 XY_NPG_L0, XY_NPG_L45, XY_NPG_L12, red_solid_width=2.2))
p13 = make_panel(0, 2, np_series(XZ_NPD_L0, XZ_NPD_L45, XZ_NPD_L12,
                                 XZ_NPG_L0, XZ_NPG_L45, XZ_NPG_L12))
p21 = make_panel(1, 0, np_series(YX_NPD_L0, YX_NPD_L45, YX_NPD_L12,
                                 YX_NPG_L0, YX_NPG_L45, YX_NPG_L12))
p22 = make_panel(1, 1, pow_series(Y_POW_L0, Y_POW_L45, Y_POW_L12), power=True)
p23 = make_panel(1, 2, np_series(YZ_NPD_L0, YZ_NPD_L45, YZ_NPD_L12,
                                 YZ_NPG_L0, YZ_NPG_L45, YZ_NPG_L12))
p31 = make_panel(2, 0, np_series(ZX_NPD_L0, ZX_NPD_L45, ZX_NPD_L12,
                                 ZX_NPG_L0, ZX_NPG_L45, ZX_NPG_L12))
p32 = make_panel(2, 1, np_series(ZY_NPD_L0, ZY_NPD_L45, ZY_NPD_L12,
                                 ZY_NPG_L0, ZY_NPG_L45, ZY_NPG_L12))
p33 = make_panel(2, 2, pow_series(Z_POW_L0, Z_POW_L45, Z_POW_L12), power=True)

# ---------------- bottom strip: axis titles, labels, diagram, legend ----------------
TOTAL_W = sum(BORDER_L) + sum(BORDER_R) + 3 * 272
TOP_Y = sum(BORDER_T) + sum(BORDER_B) + 3 * 232
pb = figure(width=TOTAL_W, height=1127 - TOP_Y, x_range=Range1d(0, TOTAL_W),
            y_range=Range1d(1127, TOP_Y),
            x_axis_type=None, y_axis_type=None, output_backend="svg", toolbar_location=None,
            min_border_left=0, min_border_right=0, min_border_top=0, min_border_bottom=0)
pb.outline_line_color = None
pb.grid.visible = False
pb.background_fill_color = "white"
pb.border_fill_color = "white"

COL_CENTER = [336, 688, 1060]
pb.text(x=COL_CENTER, y=[970, 970, 970], text=[X_LABEL] * 3,
        text_align="center", text_baseline="middle", text_font=value(FONT),
        text_font_size="23px", text_color="#111111")
pb.text(x=[329, 688, 1052], y=[1000, 1000, 1000], text=COL_LABELS,
        text_align="center", text_baseline="middle", text_font=value(FONT),
        text_font_size="23px", text_color="#3A3A3A")
pb.text(x=[688], y=[1024], text=["TO:"], text_align="center", text_baseline="middle",
        text_font=value(FONT), text_font_size="23px", text_color="#3A3A3A")

# causal diagram
NODES = ["X", "Y", "Z"]
NODE_X = [30, 120, 130]
NODE_Y = [1103, 1103, 1005]
pb.add_layout(Arrow(x_start=50, y_start=1103, x_end=101, y_end=1103, line_width=6,
                    line_color=BLACK,
                    end=NormalHead(size=13, fill_color=BLACK, line_color=BLACK)))
pb.add_layout(Arrow(x_start=43, y_start=1089, x_end=115, y_end=1020, line_width=6,
                    line_color=BLACK,
                    end=NormalHead(size=13, fill_color=BLACK, line_color=BLACK)))
pb.scatter(NODE_X, NODE_Y, size=41, color=BLACK)
pb.text(NODE_X, NODE_Y, text=NODES, text_align="center", text_baseline="middle",
        text_font=value("Liberation Sans"), text_font_size="20px", text_color="white")
pb.text(x=[77, 61], y=[1117, 1050], text=["\u03b4\u2081", "\u03b4\u2082"],
        text_align="center", text_baseline="middle", text_font=value("DejaVu Sans"),
        text_font_size="12px", text_color="#222222")

# legend (proxy renderers, data outside the visible range)
PX, PY = [0, 1], [0, 0]
r_l0 = pb.line(PX, PY, line_color=BLACK, line_width=10)
r_l45 = pb.line(PX, PY, line_color=BLACK, line_width=10, line_dash="14 14")
r_l12 = pb.line(PX, PY, line_color=BLACK, line_width=10, line_dash="10 10",
                line_dash_offset=5)
r_pow = pb.line(PX, PY, line_color=BLACK, line_width=10)
r_npd = pb.line(PX, PY, line_color="#6BBB6B", line_width=10)
r_npg = pb.line(PX, PY, line_color="#E8494E", line_width=10)

common = dict(orientation="horizontal", glyph_width=75, glyph_height=20, label_standoff=14,
              padding=0, margin=0, border_line_color=None, background_fill_alpha=0,
              label_text_font="Liberation Sans", label_text_font_size="18px",
              label_text_color="#222222")
leg1 = Legend(items=[LegendItem(label=LAMBDA_LABELS[0], renderers=[r_l0]),
                     LegendItem(label=LAMBDA_LABELS[1], renderers=[r_l45]),
                     LegendItem(label=LAMBDA_LABELS[2], renderers=[r_l12])],
              location=(178, 48), spacing=25, **common)
leg2 = Legend(items=[LegendItem(label=MEASURE_LABELS[0], renderers=[r_pow]),
                     LegendItem(label=MEASURE_LABELS[1], renderers=[r_npd]),
                     LegendItem(label=MEASURE_LABELS[2], renderers=[r_npg])],
              location=(178, 0), spacing=25, label_width=110, **common)
pb.add_layout(leg1)
pb.add_layout(leg2)

layout = column(row(p11, p12, p13), row(p21, p22, p23), row(p31, p32, p33), pb)

open("out.html", "w").write(file_html(layout, INLINE))
